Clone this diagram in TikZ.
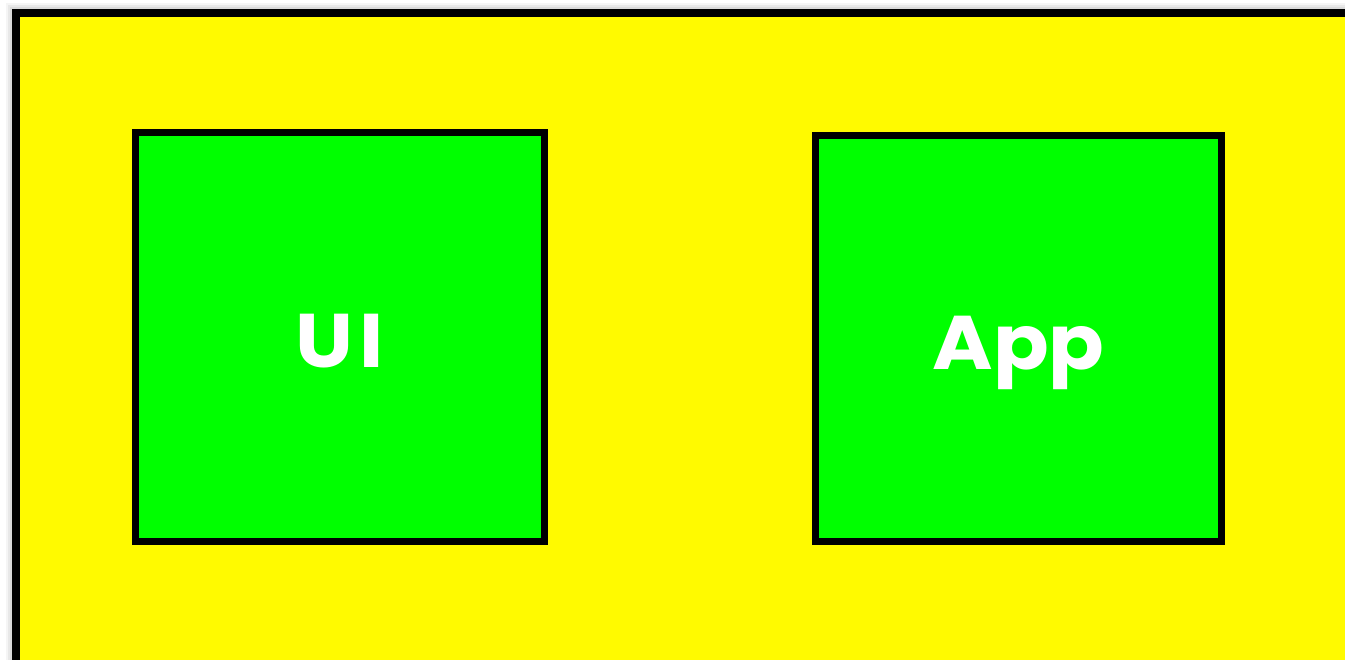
\documentclass[tikz,border=0pt]{standalone}
\usepackage{fontspec}
\newfontfamily\boxfont{Poppins}[UprightFont=* SemiBold, BoldFont=* Bold]
\definecolor{bgyellow}{RGB}{255,250,0}
\definecolor{boxgreen}{RGB}{0,255,0}
\newcommand{\boxtext}[1]{\raisebox{-31pt}[0pt][0pt]{\scalebox{1.08}[1]{#1}}}
\begin{document}
\begin{tikzpicture}[x=1pt,y=-1pt,
  outerbox/.style={draw=black,line width=8pt,fill=bgyellow},
  compbox/.style={draw=black,line width=7pt,fill=boxgreen,minimum width=409pt,minimum height=409pt,inner sep=0pt,
    font=\boxfont\bfseries\fontsize{76}{76}\selectfont,text=white}]
\useasboundingbox (0,0) rectangle (1345,660);
\clip (0,0) rectangle (1345,660);
\fill[white] (0,0) rectangle (1345,660);
\foreach \d/\o in {6/0.04,4/0.05,2/0.06}{
  \fill[black,opacity=\o] (16-\d-4,13-\d-4) rectangle (1400,700);
}
\draw[outerbox] (16,13) rectangle (1400,700);
\node[compbox] (ui) at (340,337) {\boxtext{U\kern6pt I}};
\node[compbox,minimum width=406pt,minimum height=406pt] (app) at (1018.5,338.5) {\boxtext{App}};
\end{tikzpicture}
\end{document}
